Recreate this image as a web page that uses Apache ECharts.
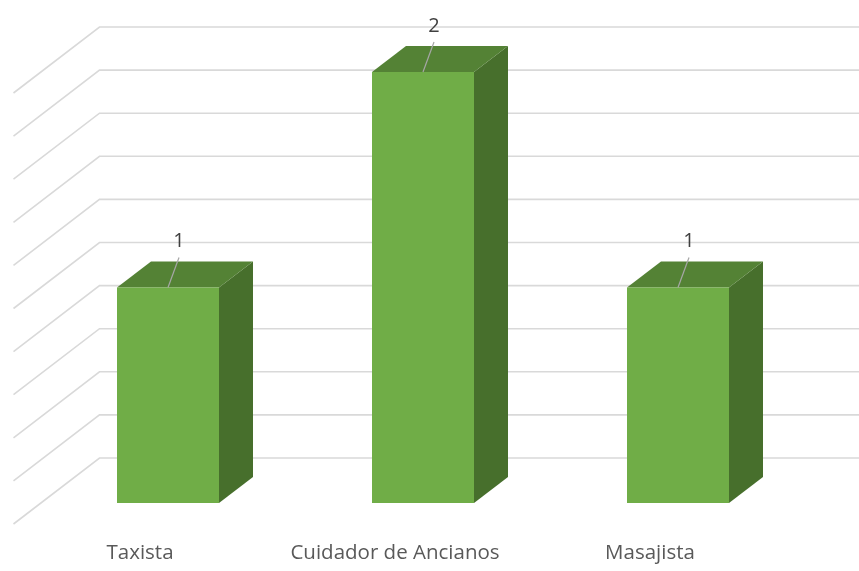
<!DOCTYPE html>
<html>
<head>
<meta charset="utf-8">
<script src="https://cdn.jsdelivr.net/npm/echarts@6/dist/echarts.min.js"></script>
<style>
  html, body { margin: 0; padding: 0; background: #fff; }
  #chart { width: 859px; height: 571px; }
</style>
</head>
<body>
<div id="chart"></div>
<script>
// data
var categories = ['Taxista', 'Cuidador de Ancianos', 'Masajista'];
var values = [1, 2, 1];
var gridValues = [0, 0.2, 0.4, 0.6, 0.8, 1, 1.2, 1.4, 1.6, 1.8, 2];

var FONT = '"Open Sans", "Noto Sans", sans-serif';
// 3d look: depth offsets in px (up-right)
var BAR_DX = 34, BAR_DY = -26;
var WALL_BACK_DX = 59, WALL_BACK_DY = -45;
var WALL_FRONT_DX = -27, WALL_FRONT_DY = 21;

var myChart = echarts.init(document.getElementById('chart'));

function renderWall(params, api) {
    var cs = params.coordSys;
    var y = api.coord([0, api.value(0)])[1];
    var left = cs.x;
    var right = cs.x + cs.width;
    return {
        type: 'polyline',
        shape: {
            points: [
                [left + WALL_FRONT_DX, y + WALL_FRONT_DY],
                [left + WALL_BACK_DX, y + WALL_BACK_DY],
                [right + WALL_BACK_DX, y + WALL_BACK_DY]
            ]
        },
        style: { stroke: '#d9d9d9', lineWidth: 1.6, fill: null },
        silent: true
    };
}

function renderBar(params, api) {
    var idx = api.value(0);
    var val = api.value(1);
    var base = api.coord([idx, 0]);
    var top = api.coord([idx, val]);
    var w = api.size([1, 0])[0] * 0.4;
    var x0 = base[0] - w / 2, x1 = base[0] + w / 2;
    var yt = top[1], yb = base[1];
    var lx = top[0] + 11;
    return {
        type: 'group',
        children: [
            {
                type: 'polygon',
                shape: { points: [[x1, yt], [x1 + BAR_DX, yt + BAR_DY], [x1 + BAR_DX, yb + BAR_DY], [x1, yb]] },
                style: { fill: '#476f2c' }
            },
            {
                type: 'polygon',
                shape: { points: [[x0, yt], [x0 + BAR_DX, yt + BAR_DY], [x1 + BAR_DX, yt + BAR_DY], [x1, yt]] },
                style: { fill: '#548235' }
            },
            {
                type: 'rect',
                shape: { x: x0, y: yt, width: w, height: yb - yt },
                style: { fill: '#70ad47' }
            },
            {
                type: 'line',
                shape: { x1: top[0], y1: yt, x2: lx, y2: yt - 30 },
                style: { stroke: '#a6a6a6', lineWidth: 1.2 }
            },
            {
                type: 'text',
                style: {
                    text: String(val), x: lx, y: yt - 46,
                    align: 'center', verticalAlign: 'middle',
                    fontSize: 20, fontFamily: FONT, fill: '#404040'
                }
            }
        ]
    };
}

var option = {
    animation: false,
    backgroundColor: '#ffffff',
    grid: { left: 40.5, right: 53.5, top: 72, bottom: 68 },
    xAxis: {
        type: 'category',
        data: categories,
        axisLine: { show: false },
        axisTick: { show: false },
        splitLine: { show: false },
        axisLabel: {
            interval: 0,
            hideOverlap: false,
            margin: 40,
            fontSize: 20.5,
            fontFamily: FONT,
            color: '#595959',
            padding: [0, 56, 0, 0]
        }
    },
    yAxis: {
        type: 'value',
        min: 0,
        max: 2,
        interval: 0.2,
        show: false
    },
    series: [
        {
            type: 'custom',
            name: 'wall',
            renderItem: renderWall,
            data: gridValues.map(function (v) { return [v]; }),
            encode: { y: 0 },
            z: 1,
            silent: true
        },
        {
            type: 'custom',
            name: 'bars',
            renderItem: renderBar,
            data: values.map(function (v, i) { return [i, v]; }),
            encode: { x: 0, y: 1 },
            z: 2
        }
    ]
};
myChart.setOption(option);
</script>
</body>
</html>
